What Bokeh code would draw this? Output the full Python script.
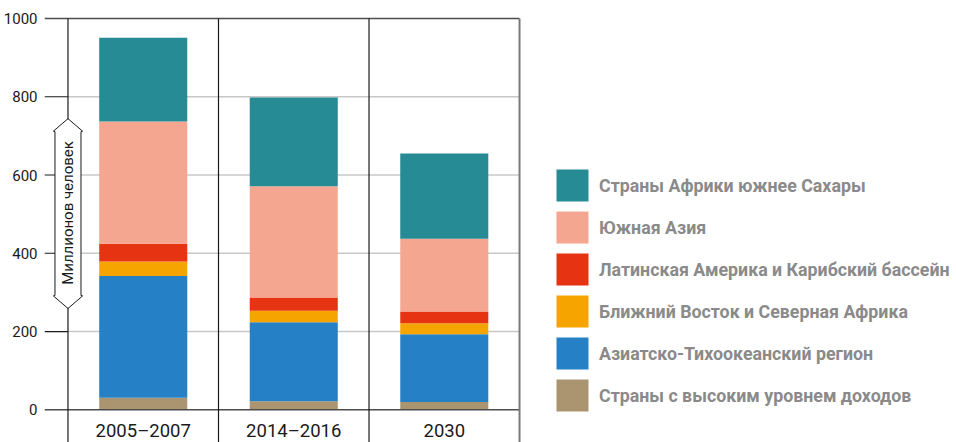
import math
from bokeh.plotting import figure
from bokeh.models import Range1d, FixedTicker, Legend, LegendItem
from bokeh.core.properties import value
from bokeh.embed import file_html
from bokeh.resources import INLINE

# ---- data (million people) ----
categories = ["2005–2007", "2014–2016", "2030"]
high_income = [31, 22, 20]
asia_pacific = [311, 202, 173]
mena = [37, 29, 28]
latam = [45, 34, 30]
south_asia = [313, 284, 186]
sub_saharan = [214, 227, 218]

series_keys = ["high_income", "asia_pacific", "mena", "latam", "south_asia", "sub_saharan"]
series_labels = [
    "Страны с высоким уровнем доходов",
    "Азиатско-Тихоокеанский регион",
    "Ближний Восток и Северная Африка",
    "Латинская Америка и Карибский бассейн",
    "Южная Азия",
    "Страны Африки южнее Сахары",
]
series_colors = ["#ab9570", "#2680c6", "#f6a500", "#e63312", "#f5a690", "#268b94"]

y_ticks = [0, 200, 400, 600, 800, 1000]
y_axis_title = "Миллионов человек"

FONT = "Roboto"

n = len(categories)
xpos = [i + 0.5 for i in range(n)]
x_start, x_end = -0.156, 3.033
y_start, y_end = -83.6, 1020.4

p = figure(frame_width=480, frame_height=432, output_backend="svg", toolbar_location=None,
           x_range=Range1d(x_start, x_end), y_range=Range1d(y_start, y_end),
           x_axis_location=None, min_border_left=37, min_border_right=423,
           min_border_top=10, min_border_bottom=0)
p.grid.visible = False
p.outline_line_color = None
p.background_fill_color = None
p.border_fill_color = "white"

ax = p.yaxis[0]
ax.ticker = FixedTicker(ticks=y_ticks)
ax.axis_line_color = None
ax.major_tick_line_color = None
ax.minor_tick_line_color = None
ax.major_tick_out = 0
ax.major_tick_in = 0
ax.minor_tick_out = 0
ax.major_label_standoff = 7
ax.major_label_text_font = FONT
ax.major_label_text_font_size = "15px"
ax.major_label_text_color = "#1a1a1a"

inner = [t for t in y_ticks if 0 < t < max(y_ticks)]
edge = [min(y_ticks), max(y_ticks)]

# gridlines
p.segment(x0=[0] * len(inner), x1=[n] * len(inner), y0=inner, y1=inner,
          line_color="#c8c8c8", line_width=1.5)
# tick marks (black, left of axis)
p.segment(x0=[x_start] * len(inner), x1=[0] * len(inner), y0=inner, y1=inner,
          line_color="#1a1a1a", line_width=1.2)

data = dict(x=xpos, high_income=high_income, asia_pacific=asia_pacific, mena=mena,
            latam=latam, south_asia=south_asia, sub_saharan=sub_saharan)
rs = p.vbar_stack(series_keys, x="x", width=0.585, color=series_colors, source=data,
                  line_color=None)

# top line and baseline
p.segment(x0=[x_start] * 2, x1=[n] * 2, y0=edge, y1=edge, line_color="#4d4d4d", line_width=1.5)
# vertical separators
p.segment(x0=list(range(n)), x1=list(range(n)), y0=[y_start] * n, y1=[max(y_ticks)] * n,
          line_color="#1a1a1a", line_width=1.2)
p.segment(x0=[n], x1=[n], y0=[y_start], y1=[max(y_ticks)], line_color="#7a7a7a", line_width=2)

# axis title in arrow box
hw = 0.0864
bw = 0.097
p.patch(x=[0, -bw, -hw, -hw, -bw, 0, bw, hw, hw, bw],
        y=[744, 712, 711, 292, 291, 259, 291, 292, 711, 712],
        fill_color="white", line_color="#1a1a1a", line_width=1)
p.text(x=[0], y=[503], text=[y_axis_title], angle=math.pi / 2, text_align="center",
       text_baseline="middle", text_font=value(FONT), text_font_size="15px",
       text_color="#1a1a1a")

# category labels
p.text(x=xpos, y=[-53] * n, text=categories, text_align="center", text_baseline="alphabetic",
       text_font=value(FONT), text_font_size="18.5px", text_color="#1a1a1a")

items = [LegendItem(label=lab, renderers=[r]) for lab, r in zip(series_labels, rs)][::-1]
legend = Legend(items=items, location=(28, 27), glyph_width=40, glyph_height=40,
                spacing=2, label_standoff=7, padding=0, margin=0,
                border_line_color=None, background_fill_alpha=0,
                label_text_font=FONT, label_text_font_size="17.8px",
                label_text_font_style="bold", label_text_color="#8a8a8a")
p.add_layout(legend, "right")

open("out.html", "w").write(file_html(p, INLINE))
